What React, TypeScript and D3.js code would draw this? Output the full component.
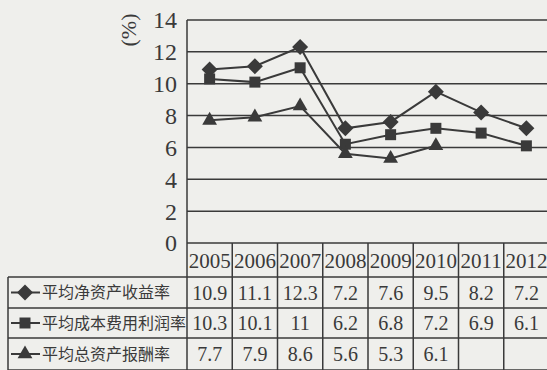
import React from 'react';
import * as d3 from 'd3';

const years = ['2005', '2006', '2007', '2008', '2009', '2010', '2011', '2012'];
const seriesNames = ['平均净资产收益率', '平均成本费用利润率', '平均总资产报酬率'];
const roe = [10.9, 11.1, 12.3, 7.2, 7.6, 9.5, 8.2, 7.2];
const costProfit = [10.3, 10.1, 11, 6.2, 6.8, 7.2, 6.9, 6.1];
const roa: (number | null)[] = [7.7, 7.9, 8.6, 5.6, 5.3, 6.1, null, null];
const yTicks = [0, 2, 4, 6, 8, 10, 12, 14];

const W = 547;
const H = 370;
const ink = '#3a3a3a';
const serif = '"Liberation Serif", "DejaVu Serif", serif';
const cjk = '"Noto Sans CJK SC", sans-serif';

const series = [
  { name: seriesNames[0], values: roe as (number | null)[], marker: 'diamond' },
  { name: seriesNames[1], values: costProfit as (number | null)[], marker: 'square' },
  { name: seriesNames[2], values: roa, marker: 'triangle' },
];

// diamond = square turned 45deg, like the scanned one
const markerPath = (m: string) =>
  m === 'diamond' ? d3.symbol(d3.symbolSquare, 128)() : m === 'square' ? d3.symbol(d3.symbolSquare, 121)() : d3.symbol(d3.symbolTriangle, 95)();
const markerRot = (m: string) => (m === 'diamond' ? ' rotate(45)' : '');

const App: React.FC = () => {
  const x = d3.scaleBand<string>().domain(years).range([187, 549]).padding(0);
  const y = d3.scaleLinear().domain([0, 14]).range([243, 20]);
  const rowEdges = [243, 277, 308, 338, 370];
  const tableLeft = 8;
  const cx = (i: number) => (x(years[i]) as number) + x.bandwidth() / 2;

  const line = d3
    .line<number | null>()
    .defined(d => d != null)
    .x((_, i) => cx(i))
    .y(d => y(d as number));

  return (
    <div style={{ position: 'fixed', left: 0, top: 0 }}>
      <svg width={W} height={H} style={{ display: 'block', background: '#efefec' }}>
        {/* grid */}
        {yTicks.map(t => (
          <line key={t} x1={187} x2={W} y1={y(t)} y2={y(t)} stroke={ink} strokeWidth={1.5} />
        ))}
        <line x1={187} x2={187} y1={y(14)} y2={H} stroke={ink} strokeWidth={1.5} />
        {yTicks.map(t => (
          <text key={t} x={177} y={y(t)} dy="0.35em" textAnchor="end" fontFamily={serif} fontSize={24} fill={ink}>
            {t}
          </text>
        ))}
        <text transform="translate(128,30) rotate(-90)" textAnchor="middle" dy="0.35em" fontFamily={serif} fontSize={22} fill={ink}>
          (%)
        </text>

        {/* table */}
        {rowEdges.slice(1).map(r => (
          <line key={r} x1={tableLeft} x2={W} y1={r} y2={r} stroke={ink} strokeWidth={1.5} />
        ))}
        <line x1={tableLeft} x2={tableLeft} y1={277} y2={H} stroke={ink} strokeWidth={1.5} />
        {years.map(yr => (
          <line key={yr} x1={(x(yr) as number) + x.bandwidth()} x2={(x(yr) as number) + x.bandwidth()} y1={243} y2={H} stroke={ink} strokeWidth={1.5} />
        ))}
        {years.map((yr, i) => (
          <text key={yr} x={cx(i)} y={261} dy="0.35em" textAnchor="middle" fontFamily={serif} fontSize={21} fill={ink}>
            {yr}
          </text>
        ))}

        {series.map((s, si) => {
          const rowMid = (rowEdges[si + 1] + rowEdges[si + 2]) / 2;
          return (
            <g key={s.name}>
              <path d={line(s.values) || ''} fill="none" stroke={ink} strokeWidth={2} />
              {s.values.map((v, i) =>
                v == null ? null : (
                  <path key={i} transform={`translate(${cx(i)},${y(v)})${markerRot(s.marker)}`} d={markerPath(s.marker) || ''} fill={ink} />
                )
              )}
              {/* legend key */}
              <line x1={11} x2={40} y1={rowMid} y2={rowMid} stroke={ink} strokeWidth={2} />
              <path transform={`translate(25,${rowMid})${markerRot(s.marker)}`} d={markerPath(s.marker) || ''} fill={ink} />
              <text x={42} y={rowMid} dy="0.35em" fontFamily={cjk} fontSize={16} fill={ink}>
                {s.name}
              </text>
              {s.values.map((v, i) =>
                v == null ? null : (
                  <text key={i} x={cx(i)} y={rowMid} dy="0.35em" textAnchor="middle" fontFamily={serif} fontSize={20} fill={ink}>
                    {v}
                  </text>
                )
              )}
            </g>
          );
        })}
      </svg>
    </div>
  );
};

export default App;
